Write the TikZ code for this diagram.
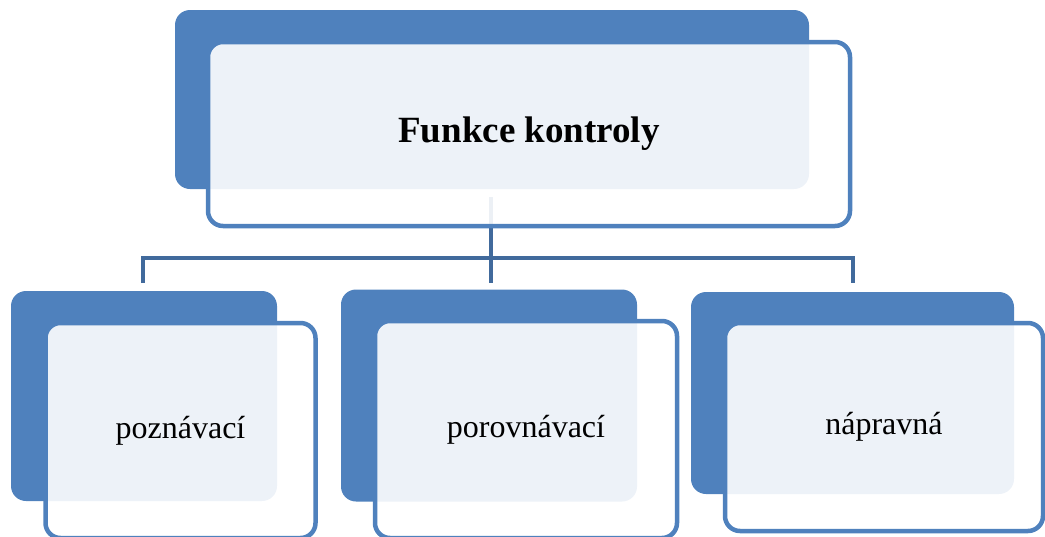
\documentclass[tikz,border=0pt]{standalone}
\usepackage{fontspec}
\setmainfont{Liberation Serif}
\definecolor{boxblue}{RGB}{79,129,189}
\definecolor{lineblue}{RGB}{65,106,156}
\tikzset{
  solidbox/.style={draw=none, fill=boxblue, rounded corners=15pt, inner sep=0pt},
  framebox/.style={draw=boxblue, line width=4.5pt, fill=white, fill opacity=0.9, text opacity=1, rounded corners=15pt, inner sep=0pt},
  conn/.style={draw=lineblue, line width=4pt},
  child/.style={font=\fontsize{32}{36}\selectfont},
}
\begin{document}
\begin{tikzpicture}[x=1pt,y=-1pt]
\useasboundingbox (0,0) rectangle (1045,536);
\begin{scope}
\clip (0,0) rectangle (1045,536);
% filled back boxes
\node[solidbox, minimum width=634pt, minimum height=179pt] (topb) at (492,99.5) {};
\node[solidbox, minimum width=266pt, minimum height=210pt] (lb) at (144,396) {};
\node[solidbox, minimum width=296pt, minimum height=212pt] (mb) at (489,395.5) {};
\node[solidbox, minimum width=323pt, minimum height=202pt] (rb) at (852.5,393) {};
% connectors
\coordinate (bus) at (491,258);
\coordinate (tl) at (143,283);
\coordinate (tm) at (491,283);
\coordinate (tr) at (853,283);
\draw[conn] ([yshift=-8pt]topb.south -| bus) -- (bus);
\draw[conn] (tl) -- (tl |- bus) -- (tr |- bus) -- (tr);
\draw[conn] (bus) -- (tm);
% framed front boxes
\node[framebox, minimum width=642pt, minimum height=184pt, font=\bfseries\fontsize{37}{42}\selectfont] (top) at (529,134) {\raisebox{-2pt}{Funkce kontroly}};
\node[framebox, child, minimum width=270pt, minimum height=215pt] (left) at (180.5,430.5) {\raisebox{-7pt}{poznávací}};
\node[framebox, child, minimum width=302pt, minimum height=217pt] (mid) at (526,429.5) {\raisebox{-7pt}{porovnávací}};
\node[framebox, child, minimum width=318pt, minimum height=208pt] (right) at (884,427) {\raisebox{-7pt}{nápravná}};
\end{scope}
\end{tikzpicture}
\end{document}
